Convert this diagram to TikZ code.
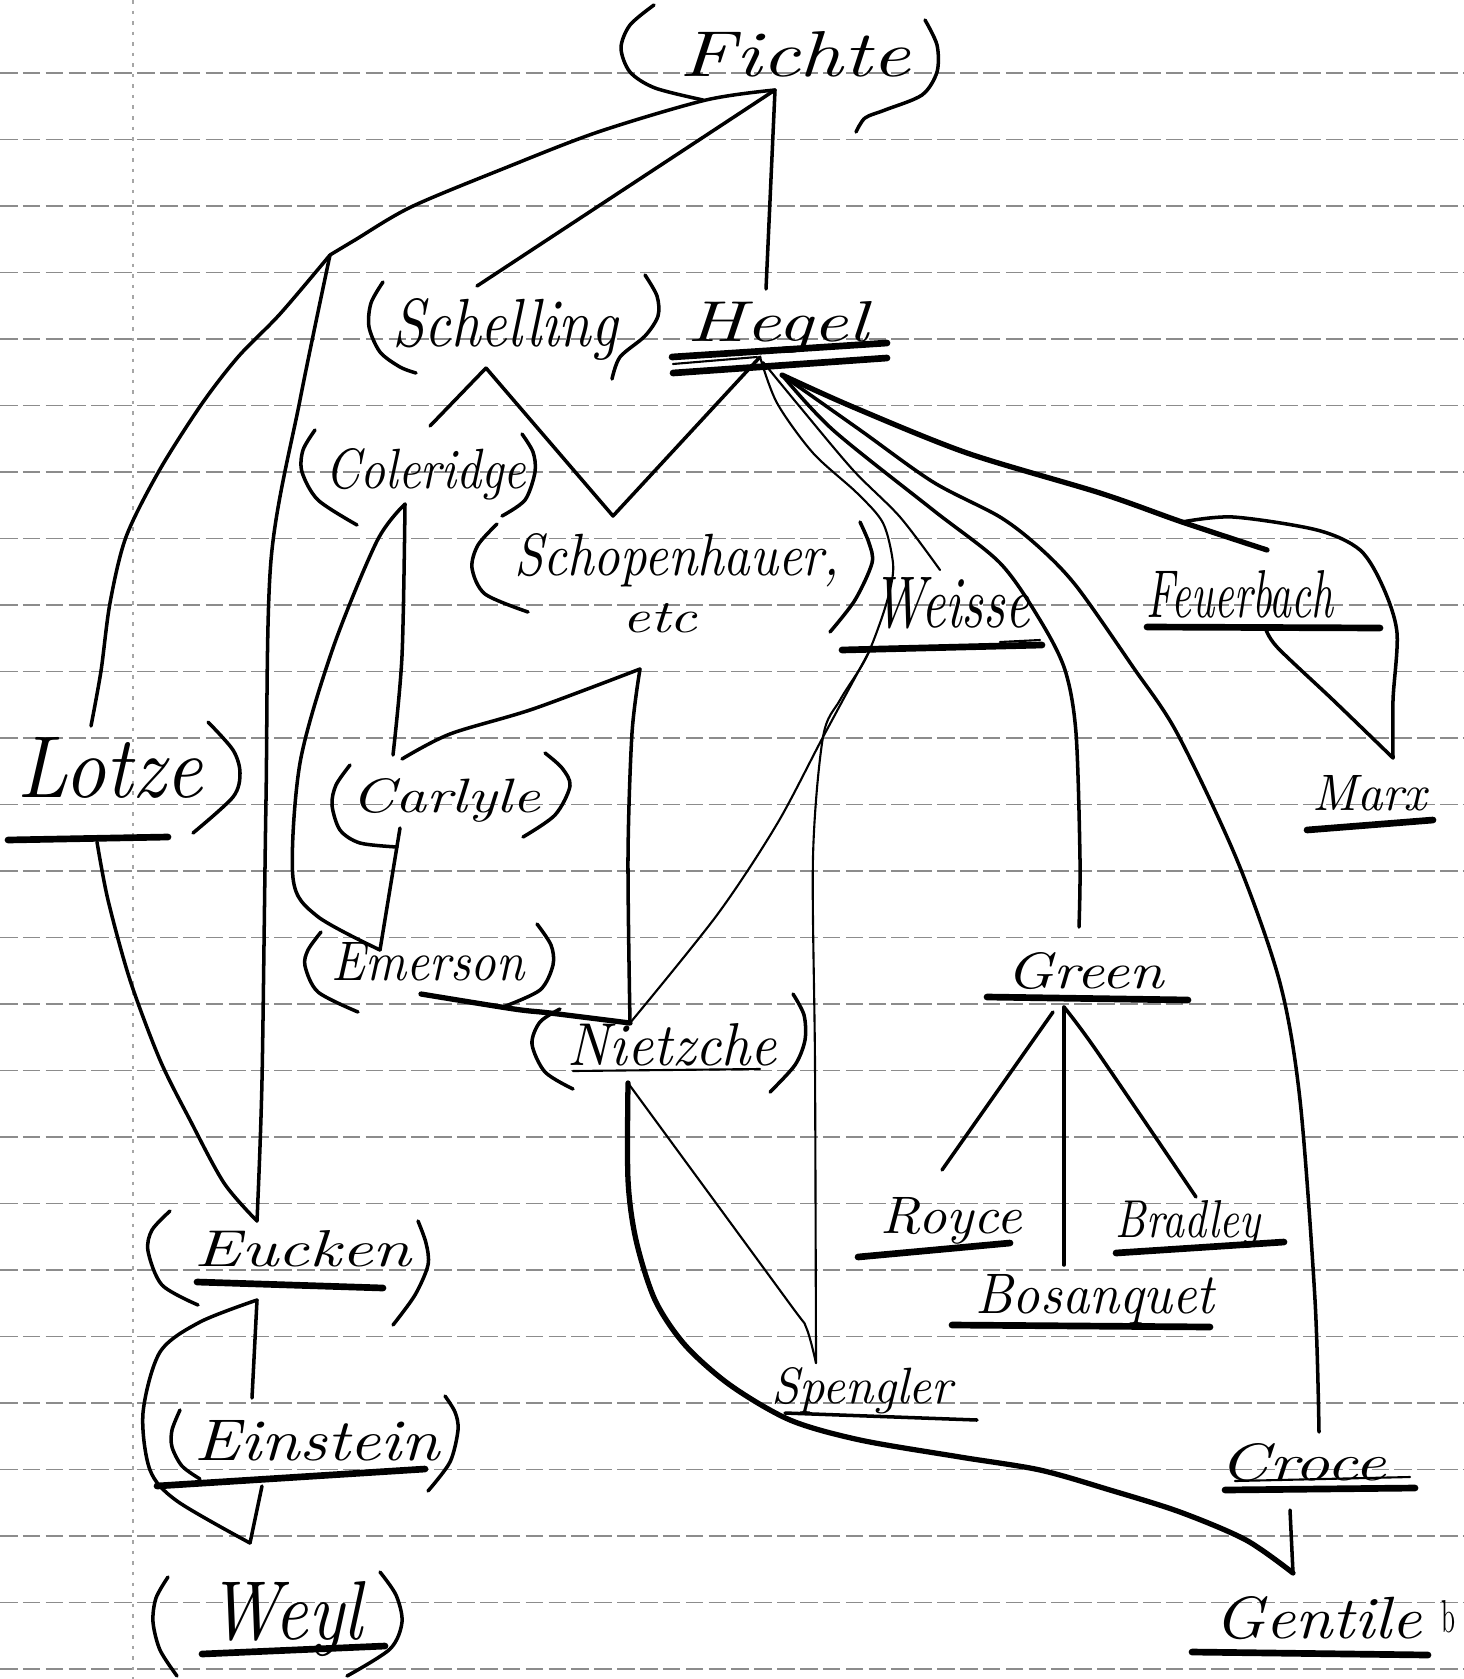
\documentclass[tikz,border=0pt]{standalone}
\usepackage{graphicx}
\begin{document}
\begin{tikzpicture}[x=0.01cm,y=-0.01cm,
  pen/.style={line width=1pt,line cap=round,line join=round},
  fine/.style={line width=0.6pt,line cap=round,line join=round},
  heavy/.style={line width=1.5pt,line cap=round,line join=round},
  uline/.style={line width=1.9pt,line cap=round},
  brk/.style={line width=1pt,line cap=round,line join=round},
  rule/.style={black!45,line width=0.35pt,dash pattern=on 5pt off 1.5pt},
  margin/.style={black!35,line width=0.3pt,dash pattern=on 1pt off 2pt},
  lbl/.style={inner sep=0pt,anchor=base,font=\itshape}]
\useasboundingbox (0,0) rectangle (1463,1679);
\fill[white] (0,0) rectangle (1463,1679);
% ruled paper
\foreach \k in {0,...,24}{\draw[rule] (0,{73+66.5*\k}) -- (1463,{73+66.5*\k});}
\draw[margin] (133,0) -- (133,1679);

% ---------- names ----------
\node[lbl] (fichte) at (795,77) {\resizebox{2.3cm}{0.45cm}{Fichte}};
\node[lbl] (schelling) at (505,347) {\resizebox{2.25cm}{0.48cm}{Schelling}};
\node[lbl] (hegel) at (778,341) {\resizebox{1.8cm}{0.40cm}{Hegel}};
\node[lbl] (coleridge) at (426,488) {\resizebox{2.0cm}{0.40cm}{Coleridge}};
\node[lbl] (schop) at (677,575) {\resizebox{3.25cm}{0.42cm}{Schopenhauer,}};
\node[lbl] (etc) at (660,632) {\resizebox{0.75cm}{0.29cm}{etc}};
\node[lbl] (weisse) at (951,627) {\resizebox{1.57cm}{0.50cm}{Weisse}};
\node[lbl] (feuerbach) at (1240,617) {\resizebox{1.86cm}{0.47cm}{Feuerbach}};
\node[lbl] (marx) at (1370,810) {\resizebox{1.14cm}{0.35cm}{Marx}};
\node[lbl] (lotze) at (110,797) {\resizebox{1.85cm}{0.60cm}{Lotze}};
\node[lbl] (carlyle) at (446,812) {\resizebox{1.88cm}{0.34cm}{Carlyle}};
\node[lbl] (emerson) at (428,980) {\resizebox{1.93cm}{0.38cm}{Emerson}};
\node[lbl] (nietzsche) at (672,1065) {\resizebox{2.09cm}{0.42cm}{Nietzche}};
\node[lbl] (green) at (1085,988) {\resizebox{1.57cm}{0.36cm}{Green}};
\node[lbl] (royce) at (951,1233) {\resizebox{1.41cm}{0.36cm}{Royce}};
\node[lbl] (bradley) at (1188,1237) {\resizebox{1.44cm}{0.37cm}{Bradley}};
\node[lbl] (bosanquet) at (1095,1313) {\resizebox{2.39cm}{0.39cm}{Bosanquet}};
\node[lbl] (spengler) at (862,1403) {\resizebox{1.81cm}{0.36cm}{Spengler}};
\node[lbl] (croce) at (1303,1480) {\resizebox{1.66cm}{0.37cm}{Croce}};
\node[lbl] (gentile) at (1318,1638) {\resizebox{2.07cm}{0.42cm}{Gentile}};
\node[lbl] (eucken) at (303,1266) {\resizebox{2.17cm}{0.36cm}{Eucken}};
\node[lbl] (einstein) at (317,1460) {\resizebox{2.45cm}{0.40cm}{Einstein}};
\node[lbl] (weyl) at (285,1639) {\resizebox{1.55cm}{0.58cm}{Weyl}};
\node[lbl] (bmark) at (1448,1632) {\resizebox{0.14cm}{0.32cm}{\upshape b}};

% ---------- brackets ----------
\draw[brk] plot[smooth] coordinates {(654,5) (630,25) (621,48) (630,72) (655,88) (703,100)};
\draw[brk] plot[smooth] coordinates {(925,20) (937,45) (937,72) (922,95) (885,110) (865,118) (856,132)};
\draw[brk] plot[smooth] coordinates {(383,282) (371,303) (369,327) (380,352) (400,367) (416,373)};
\draw[brk] plot[smooth] coordinates {(645,275) (657,296) (658,316) (645,336) (620,357) (612,379)};
\draw[brk] plot[smooth] coordinates {(315,430) (303,450) (302,472) (318,500) (357,525)};
\draw[brk] plot[smooth] coordinates {(522,434) (533,452) (535,472) (525,500) (502,516)};
\draw[brk] plot[smooth] coordinates {(497,524) (478,545) (472,568) (485,594) (528,612)};
\draw[brk] plot[smooth] coordinates {(860,522) (869,543) (872,563) (855,600) (830,632)};
\draw[brk] plot[smooth] coordinates {(350,765) (336,785) (332,805) (340,830) (360,843) (397,847)};
\draw[brk] plot[smooth] coordinates {(545,753) (562,768) (570,786) (555,815) (523,837)};
\draw[brk] plot[smooth] coordinates {(321,932) (308,950) (305,966) (318,992) (358,1012)};
\draw[brk] plot[smooth] coordinates {(537,924) (551,945) (553,965) (540,990) (503,1007)};
\draw[brk] plot[smooth] coordinates {(560,1009) (540,1022) (532,1044) (545,1072) (573,1089)};
\draw[brk] plot[smooth] coordinates {(793,994) (804,1015) (805,1040) (795,1065) (770,1092)};
\draw[brk] plot[smooth] coordinates {(208,722) (233,750) (240,773) (233,797) (193,833)};
\draw[brk] plot[smooth] coordinates {(170,1211) (152,1230) (148,1251) (162,1285) (198,1305)};
\draw[brk] plot[smooth] coordinates {(418,1221) (426,1243) (428,1265) (415,1295) (393,1325)};
\draw[brk] plot[smooth] coordinates {(180,1410) (172,1430) (172,1447) (182,1466) (200,1479)};
\draw[brk] plot[smooth] coordinates {(445,1396) (455,1412) (458,1430) (450,1462) (428,1491)};
\draw[brk] plot[smooth] coordinates {(168,1577) (156,1598) (153,1622) (160,1650) (177,1676)};
\draw[brk] plot[smooth] coordinates {(380,1572) (396,1595) (402,1622) (390,1649) (347,1676)};

% ---------- underlines ----------
\draw[uline] (672,357) -- (887,343);
\draw[uline] (673,373) -- (887,358);
\draw[fine] (673,364) -- (757,357);
\draw[uline] (842,650) -- (1042,645);
\draw[fine] (1000,642) -- (1040,640);
\draw[uline] (1147,627) -- (1380,628);
\draw[uline] (1307,830) -- (1433,820);
\draw[uline] (8,840) -- (168,837);
\draw[fine] (573,1071) -- (760,1069);
\draw[uline] (987,997) -- (1188,1000);
\draw[uline] (858,1257) -- (1010,1243);
\draw[uline] (1116,1253) -- (1284,1242);
\draw[uline] (952,1325) -- (1210,1327);
\draw[pen] (785,1413) -- (977,1420);
\draw[uline] (1225,1490) -- (1415,1488);
\draw[fine] (1235,1481) -- (1410,1477);
\draw[uline] (1192,1652) -- (1428,1655);
\draw[uline] (197,1282) -- (383,1288);
\draw[uline] (157,1486) -- (425,1469);
\draw[uline] (202,1654) -- (385,1646);

% ---------- junction coordinates ----------
\coordinate (F0) at (775,90);
\coordinate (Htop) at (766,289);
\coordinate (Stop) at (477,286);
\coordinate (Split) at (330,255);
\coordinate (Ltop) at (91,726);
\coordinate (Lbot) at (97,842);
\coordinate (Etop) at (257,1221);
\coordinate (Ebot) at (257,1300);
\coordinate (Eitop) at (252,1398);
\coordinate (Eibot) at (262,1486);
\coordinate (Wtop) at (250,1543);
\coordinate (Sbot) at (486,368);
\coordinate (Ctop) at (430,426);
\coordinate (V) at (613,516);
\coordinate (H0) at (760,357);
\coordinate (H1) at (782,375);
\coordinate (Cbot) at (405,504);
\coordinate (Catop) at (393,755);
\coordinate (Cabot) at (400,828);
\coordinate (Emtop) at (380,950);
\coordinate (Emr) at (421,994);
\coordinate (Sch) at (640,669);
\coordinate (Nt) at (630,1023);
\coordinate (Nb) at (628,1083);
\coordinate (Wu) at (870,650);
\coordinate (Wt) at (940,570);
\coordinate (Sp) at (816,1363);
\coordinate (Gtop) at (1079,927);
\coordinate (Gb) at (1064,1007);
\coordinate (Rt) at (942,1170);
\coordinate (Bot) at (1064,1265);
\coordinate (Brt) at (1196,1197);
\coordinate (Crt) at (1319,1432);
\coordinate (Crb) at (1290,1510);
\coordinate (Gen) at (1293,1573);
\coordinate (Fe) at (1267,550);
\coordinate (Fk) at (1182,522);
\coordinate (Fu) at (1265,627);
\coordinate (Mx) at (1393,758);

% ---------- connectors ----------
\draw[pen] (F0) -- (Htop);
\draw[pen] (F0) -- (Stop);
\draw[pen] plot[smooth] coordinates {(F0) (706,100) (598,132) (505,168) (411,207) (355,240) (Split)};
\draw[pen] plot[smooth] coordinates {(Split) (280,314) (238,357) (201,405) (159,471) (126,537) (110,603) (101,671) (Ltop)};
\draw[pen] plot[smooth] coordinates {(Split) (300,400) (271,560) (266,800) (262,1080) (Etop)};
\draw[pen] plot[smooth] coordinates {(Lbot) (108,900) (130,980) (160,1060) (190,1120) (224,1183) (Etop)};
\draw[pen] (Ebot) -- (Eitop);
\draw[pen] plot[smooth] coordinates {(Ebot) (200,1322) (160,1352) (143,1413) (150,1470) (177,1501) (Wtop)};
\draw[pen] (Eibot) -- (Wtop);

\draw[pen] (Sbot) -- (Ctop);
\draw[pen] (Sbot) -- (V) -- (H0);

\draw[pen] plot[smooth] coordinates {(Cbot) (402,656) (Catop)};
\draw[pen] plot[smooth] coordinates {(Cbot) (377,541) (333,648) (300,763) (293,878) (317,916) (Emtop)};
\draw[pen] (Cabot) -- (Emtop);
\draw[pen] plot[smooth] coordinates {(Sch) (533,709) (450,734) (402,759)};
\draw[pen] plot[smooth] coordinates {(Sch) (632,733) (628,857) (Nt)};
\draw[heavy] plot[smooth] coordinates {(Emr) (514,1009) (550,1013) (Nt)};
\draw[fine] plot[smooth] coordinates {(Wu) (823,737) (777,824) (717,915) (Nt)};

\draw[fine] plot[smooth] coordinates {(H0) (777,403) (813,453) (857,493) (883,523) (893,563) (890,590) (880,623) (865,660) (840,700) (823,737) (813,857) (815,1065) (Sp)};
\draw[fine] plot[smooth] coordinates {(763,362) (800,407) (853,470) (900,517) (Wt)};
\draw[pen] plot[smooth] coordinates {(H1) (833,430) (933,510) (1000,563) (1040,620) (1065,670) (1076,733) (1080,860) (Gtop)};
\draw[pen] plot[smooth] coordinates {(H1) (860,430) (933,482) (1000,517) (1040,548) (1077,587) (1133,667) (1177,733) (1237,860) (1280,983) (1300,1100) (1315,1300) (Crt)};
\draw[heavy] plot[smooth] coordinates {(H1) (853,407) (967,453) (1100,493) (Fk) (Fe)};
\draw[pen] plot[smooth] coordinates {(Fk) (1233,517) (1317,530) (1360,550) (1383,587) (1397,633) (1393,700) (Mx)};
\draw[pen] plot[smooth] coordinates {(Fu) (1277,647) (1333,700) (Mx)};

\draw[pen] (1053,1012) -- (Rt);
\draw[pen] (Gb) -- (Bot);
\draw[pen] plot[smooth] coordinates {(Gb) (1096,1050) (Brt)};

\draw[fine] plot[smooth] coordinates {(Nb) (787,1300) (806,1327) (Sp)};
\draw[heavy] plot[smooth] coordinates {(Nb) (628,1180) (636,1240) (655,1300) (685,1345) (730,1385) (790,1420) (860,1440) (960,1457) (1040,1470) (1110,1490) (1180,1512) (1246,1540) (Gen)};
\draw[pen] (Crb) -- (Gen);
\end{tikzpicture}
\end{document}
